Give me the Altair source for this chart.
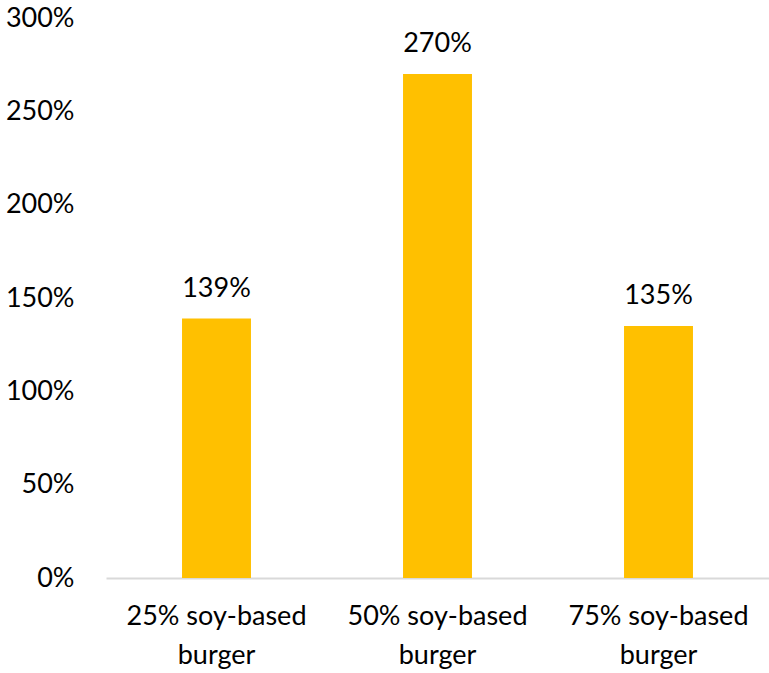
import altair as alt
import pandas as pd

categories = ["25% soy-based\nburger", "50% soy-based\nburger", "75% soy-based\nburger"]
values = [1.39, 2.70, 1.35]
labels = ["139%", "270%", "135%"]

df = pd.DataFrame({"cat": categories, "val": values, "lab": labels})

FONT = "Lato"
FS = 27

x = alt.X("cat:N", sort=categories, title=None,
          scale=alt.Scale(paddingInner=0.688, paddingOuter=0.344),
          axis=alt.Axis(labelAngle=0, labelExpr="split(datum.label, '\\n')",
                        labelFont=FONT, labelFontSize=FS, labelColor="#000000",
                        labelLineHeight=39, labelPadding=25, labelBaseline="top",
                        ticks=False, domainColor="#d9d9d9", domainWidth=2))
y = alt.Y("val:Q", title=None,
          scale=alt.Scale(domain=[0, 3], nice=False),
          axis=alt.Axis(values=[0, 0.5, 1, 1.5, 2, 2.5, 3], format=".0%",
                        labelFont=FONT, labelFontSize=FS, labelColor="#000000",
                        labelPadding=32, grid=False, domain=False, ticks=False))

bars = alt.Chart(df).mark_bar(color="#FFC000").encode(x=x, y=y)
text = alt.Chart(df).mark_text(font=FONT, fontSize=FS, color="#000000",
                               baseline="alphabetic", dy=-22).encode(
    x=alt.X("cat:N", sort=categories), y="val:Q", text="lab:N")

chart = (bars + text).properties(
    width=663, height=560,
    autosize=alt.AutoSizeParams(type="none"),
    padding={"left": 106, "top": 18, "right": 0, "bottom": 95},
).configure_view(stroke=None)

chart.save("out.html", embed_options={"renderer": "svg", "actions": False})
